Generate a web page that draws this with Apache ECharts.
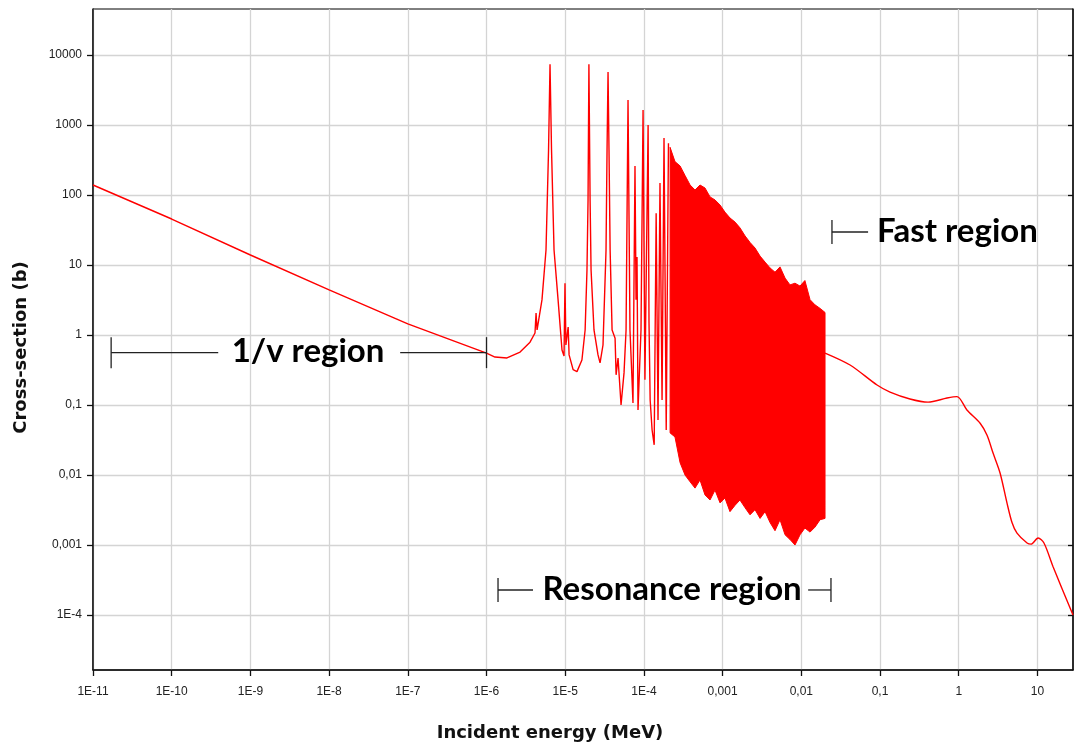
<!DOCTYPE html>
<html>
<head>
<meta charset="utf-8">
<title>Cross-section vs incident energy</title>
<script src="https://cdn.jsdelivr.net/npm/echarts@6/dist/echarts.min.js"></script>
<style>
  html, body { margin: 0; padding: 0; background: #fff; }
  #chart { width: 1075px; height: 742px; }
</style>
</head>
<body>
<div id="chart"></div>
<script>
// energies in MeV, cross-sections in barns
var oneOverVEnergy = [1e-11, 1e-10, 1e-9, 1e-8, 1e-7, 1e-6];
var oneOverVSigma  = [139, 45.4, 13.9, 4.4, 1.44, 0.55];

var resolvedEnergy = [1.28e-6, 1.82e-6, 2.67e-6, 3.57e-6, 4.13e-6, 4.26e-6, 4.39e-6, 5.07e-6, 5.7e-6, 6.14e-6,
  6.41e-6, 6.70e-6, 7.21e-6, 8.11e-6, 9.1e-6, 9.66e-6, 9.93e-6, 1.02e-5, 1.09e-5, 1.12e-5,
  1.26e-5, 1.41e-5, 1.63e-5, 1.79e-5, 1.89e-5, 1.95e-5, 2.0e-5, 2.07e-5, 2.13e-5, 2.32e-5,
  2.61e-5, 2.77e-5, 3.02e-5, 3.3e-5, 3.4e-5, 3.5e-5, 3.6e-5, 3.72e-5, 3.94e-5, 4.3e-5,
  4.43e-5, 4.69e-5, 5.12e-5, 5.59e-5, 5.93e-5, 6.28e-5, 6.65e-5, 7.26e-5, 7.7e-5, 7.94e-5,
  8.17e-5, 8.41e-5, 9.18e-5, 9.75e-5, 1.03e-4, 1.13e-4, 1.16e-4, 1.2e-4, 1.27e-4, 1.35e-4,
  1.43e-4, 1.51e-4, 1.6e-4, 1.7e-4, 1.8e-4, 1.92e-4, 2.05e-4];
var resolvedSigma = [0.485, 0.47, 0.57, 0.79, 1.07, 2.06, 1.18, 3.2, 16.4, 440,
  7400, 440, 16.4, 3.2, 0.61, 0.5, 5.5, 0.72, 1.3, 0.52,
  0.32, 0.30, 0.44, 1.18, 8.5, 85, 7400, 85, 8.5, 1.18,
  0.52, 0.40, 0.72, 16.4, 440, 5700, 440, 16.4, 1.18, 0.9,
  0.27, 0.47, 0.1, 0.29, 1.18, 2280, 1.18, 0.107, 260, 3.2,
  13, 0.085, 1.18, 1640, 0.23, 1000, 1.53, 0.118, 0.044, 0.027,
  55, 0.061, 148, 0.118, 650, 0.044, 550];

// unresolved part: upper and lower envelope of the dense resonances
var bandEnergy = [2.15e-4, 2.48e-4, 2.88e-4, 3.33e-4, 3.86e-4, 4.46e-4, 5.16e-4, 5.97e-4, 6.92e-4, 8.0e-4,
  9.27e-4, 1.07e-3, 1.24e-3, 1.44e-3, 1.66e-3, 1.93e-3, 2.23e-3, 2.58e-3, 2.99e-3, 3.46e-3,
  4.0e-3, 4.63e-3, 5.36e-3, 6.21e-3, 7.18e-3, 8.31e-3, 9.62e-3, 1.11e-2, 1.29e-2, 1.49e-2,
  1.73e-2, 2.0e-2];
var bandUpper = [480, 300, 260, 190, 139, 118, 139, 126, 94, 85,
  72, 57, 47, 41, 34, 26, 21, 17.5, 13.4, 11,
  9.1, 7.9, 9.4, 6.5, 5.2, 5.5, 5.0, 6.0, 3.2, 2.7,
  2.4, 2.1];
var bandLower = [0.04, 0.035, 0.015, 0.01, 0.008, 0.0065, 0.0085, 0.0052, 0.0044, 0.0061,
  0.0040, 0.0047, 0.0030, 0.0037, 0.0044, 0.0034, 0.0027, 0.0032, 0.0024, 0.0030,
  0.0021, 0.0016, 0.0023, 0.0014, 0.0012, 0.0010, 0.0014, 0.00175, 0.00153, 0.0018,
  0.0023, 0.0024];

var fastEnergy = [0.02, 0.0416, 0.0916, 0.134, 0.24, 0.407, 0.71, 0.95, 1.27, 1.87,
  2.29, 2.73, 3.35, 4.1, 4.75, 5.5, 7.38, 8.3, 10.2, 12.1, 15.8, 28.3];
var fastSigma = [0.553, 0.373, 0.193, 0.153, 0.122, 0.110, 0.126, 0.132, 0.085, 0.055,
  0.037, 0.0206, 0.0107, 0.0040, 0.0021, 0.00148, 0.00107, 0.00103, 0.00126, 0.00107, 0.00049, 0.0001];

// tick labels (keyed by decade exponent)
var xTickValues = [-11, -10, -9, -8, -7, -6, -5, -4, -3, -2, -1, 0, 1];
var xTickLabels = ['1E-11', '1E-10', '1E-9', '1E-8', '1E-7', '1E-6', '1E-5', '1E-4', '0,001', '0,01', '0,1', '1', '10'];
var yTickValues = [-4, -3, -2, -1, 0, 1, 2, 3, 4];
var yTickLabels = ['1E-4', '0,001', '0,01', '0,1', '1', '10', '100', '1000', '10000'];

// axis ranges (MeV / barns)
var xRange = [1e-11, 28.3];
var yRange = [1.64e-5, 45400];

var lg = Math.log10;
function pairs(xs, ys) {
  return xs.map(function (x, i) { return [lg(x), lg(ys[i])]; });
}
function tickFormatter(values, labels) {
  return function (v) {
    for (var i = 0; i < values.length; i++) {
      if (Math.abs(values[i] - v) < 1e-6) return labels[i];
    }
    return '';
  };
}

var mainData = pairs(oneOverVEnergy.concat(resolvedEnergy), oneOverVSigma.concat(resolvedSigma));
var bandData = bandEnergy.map(function (e, i) { return [lg(e), lg(bandLower[i]), lg(bandUpper[i])]; });
var fastData = pairs(fastEnergy, fastSigma);

var red = '#ff0000';
var chart = echarts.init(document.getElementById('chart'));

function renderBand(params, api) {
  if (params.dataIndex !== 0) return null;
  var pts = [];
  for (var i = 0; i < bandData.length; i++) pts.push(api.coord([bandData[i][0], bandData[i][2]]));
  for (var j = bandData.length - 1; j >= 0; j--) pts.push(api.coord([bandData[j][0], bandData[j][1]]));
  return {
    type: 'polygon',
    shape: { points: pts },
    style: { fill: red, stroke: red, lineWidth: 1 }
  };
}

chart.setOption({
  animation: false,
  backgroundColor: '#fff',
  grid: { left: 93, right: 2, top: 9, bottom: 72, outerBoundsMode: 'none', containLabel: false,
    show: true, borderColor: '#000', borderWidth: 1 },
  xAxis: {
    type: 'value',
    min: lg(xRange[0]),
    max: lg(xRange[1]),
    interval: 1,
    name: 'Incident energy (MeV)',
    nameLocation: 'middle',
    nameGap: 54,
    nameTextStyle: { fontFamily: 'DejaVu Sans', fontWeight: 'bold', fontSize: 18, color: '#111', padding: [0, 66, 0, 0] },
    axisLine: { onZero: false, lineStyle: { color: '#111', width: 1.5 } },
    axisTick: { customValues: xTickValues, length: 6, lineStyle: { color: '#111', width: 1.3 } },
    axisLabel: { customValues: xTickValues, formatter: tickFormatter(xTickValues, xTickLabels), margin: 16, fontFamily: 'Liberation Sans', fontSize: 12, color: '#222' },
    splitLine: { show: true, lineStyle: { color: '#d4d4d4', width: 1.3 } }
  },
  yAxis: [{
    type: 'value',
    min: lg(yRange[0]),
    max: lg(yRange[1]),
    minInterval: 1,
    maxInterval: 1,
    name: 'Cross-section (b)',
    nameLocation: 'middle',
    nameGap: 63,
    nameTextStyle: { fontFamily: 'DejaVu Sans', fontWeight: 'bold', fontSize: 18, color: '#111', padding: [0, 16, 0, 0] },
    axisLine: { show: true, onZero: false, lineStyle: { color: '#111', width: 1.5 } },
    axisTick: { show: true, customValues: yTickValues, length: 6, lineStyle: { color: '#111', width: 1.3 } },
    axisLabel: { customValues: yTickValues, formatter: tickFormatter(yTickValues, yTickLabels), margin: 11, fontFamily: 'Liberation Sans', fontSize: 12, color: '#222' },
    splitLine: { show: true, lineStyle: { color: '#d4d4d4', width: 1.3 } }
  }, {
    type: 'value',
    position: 'right',
    min: lg(yRange[0]),
    max: lg(yRange[1]),
    minInterval: 1,
    maxInterval: 1,
    axisLine: { show: true, onZero: false, lineStyle: { color: '#111', width: 1.5 } },
    axisTick: { show: true, inside: true, customValues: yTickValues, length: 5, lineStyle: { color: '#111', width: 1.3 } },
    axisLabel: { show: false },
    splitLine: { show: false }
  }],
  series: [
    {
      name: 'main', type: 'line', data: mainData, showSymbol: false, symbol: 'none',
      lineStyle: { color: red, width: 1.4 }, z: 3
    },
    {
      name: 'band', type: 'custom', data: bandData, renderItem: renderBand,
      encode: { x: 0, y: [1, 2] }, clip: true, z: 3
    },
    {
      name: 'fast', type: 'line', data: fastData, showSymbol: false, symbol: 'none', smooth: 0.3,
      lineStyle: { color: red, width: 1.4 }, z: 3
    }
  ]
});

// region annotations, positions in MeV / barns
var regionNotes = [
  { text: '1/v region', y: 0.56, textE: 5.4e-9, align: 'center', capH: 31,
    segments: [[1.7e-11, 3.9e-10], [8.0e-8, 1e-6]], caps: [1.7e-11, 1e-6] },
  { text: 'Resonance region', y: 2.28e-4, textE: 2.28e-4, align: 'center', capH: 24,
    segments: [[1.4e-6, 3.9e-6], [0.0122, 0.0238]], caps: [1.4e-6, 0.0238] },
  { text: 'Fast region', y: 29.6, textE: 0.0916, align: 'left', capH: 24,
    segments: [[0.0245, 0.0705]], caps: [0.0245] }
];

function toPx(e, s) { return chart.convertToPixel({ gridIndex: 0 }, [lg(e), lg(s)]); }

var elements = [];
regionNotes.forEach(function (n) {
  var t = toPx(n.textE, n.y);
  elements.push({
    type: 'text', z: 10,
    style: { text: n.text, x: t[0], y: t[1] - 1, align: n.align, verticalAlign: 'middle',
      font: 'bold 33px Lato', fill: '#000' }
  });
  n.segments.forEach(function (sg) {
    var a = toPx(sg[0], n.y), b = toPx(sg[1], n.y);
    elements.push({ type: 'line', z: 10, shape: { x1: a[0], y1: a[1], x2: b[0], y2: b[1] },
      style: { stroke: '#222', lineWidth: 1.3 } });
  });
  n.caps.forEach(function (c) {
    var p = toPx(c, n.y);
    elements.push({ type: 'line', z: 10, shape: { x1: p[0], y1: p[1] - n.capH / 2, x2: p[0], y2: p[1] + n.capH / 2 },
      style: { stroke: '#222', lineWidth: 1.3 } });
  });
});
chart.setOption({ graphic: elements });
</script>
</body>
</html>
